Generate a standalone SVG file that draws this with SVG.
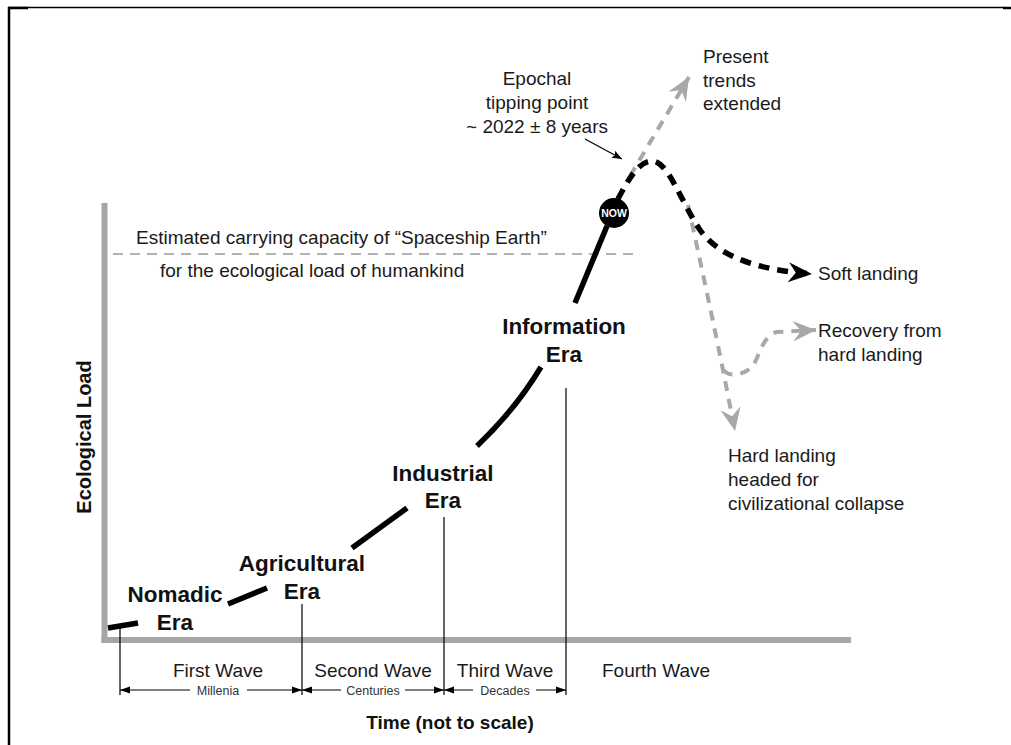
<svg xmlns="http://www.w3.org/2000/svg" width="1011" height="745" viewBox="0 0 1011 745">
<defs>
<style>
.t{font-family:"Liberation Sans",Arial,sans-serif;font-size:19px;fill:#1a1a1a}
.b{font-family:"Liberation Sans",Arial,sans-serif;font-weight:bold;fill:#111}
.era{font-size:22.5px;text-anchor:middle}
.s{font-family:"Liberation Sans",Arial,sans-serif;font-size:12.5px;fill:#333;text-anchor:middle}
.c{font-size:19px;text-anchor:middle}
.seg{fill:none;stroke:#000;stroke-width:5.5}
.tick{stroke:#000;stroke-width:1.2}
.dim{stroke:#000;stroke-width:1}
.axis{stroke:#a6a6a6;stroke-width:6;fill:none}
.gd{fill:none;stroke:#a8a8a8;stroke-width:4;stroke-dasharray:10 8}
.bd{fill:none;stroke:#000;stroke-width:5.5;stroke-dasharray:11 8}
</style>
<marker id="ga" markerUnits="userSpaceOnUse" markerWidth="30" markerHeight="30" viewBox="-20 -10 22 20" refX="0" refY="0" orient="auto"><path d="M0,0 L-17,-7.5 L-11,0 L-17,7.5 Z" fill="#a8a8a8"/></marker>
<marker id="ba" markerUnits="userSpaceOnUse" markerWidth="30" markerHeight="30" viewBox="-22 -10 24 20" refX="0" refY="0" orient="auto"><path d="M0,0 L-19,-8 L-13,0 L-19,8 Z" fill="#000"/></marker>
<marker id="sa" markerUnits="userSpaceOnUse" markerWidth="14" markerHeight="10" viewBox="-11 -5 12 10" refX="0" refY="0" orient="auto-start-reverse"><path d="M0,0 L-10,-3.5 L-10,3.5 Z" fill="#000"/></marker>
<marker id="ka" markerUnits="userSpaceOnUse" markerWidth="14" markerHeight="10" viewBox="-11 -5 12 10" refX="0" refY="0" orient="auto"><path d="M0,0 L-10,-4 L-8,0 L-10,4 Z" fill="#000"/></marker>
</defs>

<g id="frame">
<line x1="9" y1="7" x2="9" y2="745" stroke="#000" stroke-width="2.5"/>
<line x1="8" y1="7.5" x2="1004" y2="7.5" stroke="#000" stroke-width="1.5"/>
<line x1="8" y1="8" x2="28" y2="8" stroke="#000" stroke-width="2.5"/>
<line x1="1003" y1="8" x2="1011" y2="8" stroke="#000" stroke-width="2.5"/>
</g>

<g id="axes">
<line class="axis" x1="104.5" y1="203" x2="104.5" y2="643"/>
<line class="axis" x1="101.5" y1="640" x2="851" y2="640"/>
<text class="b" font-size="20" transform="translate(91,437) rotate(-90)" text-anchor="middle">Ecological Load</text>
<text class="b" x="450" y="729" font-size="19" text-anchor="middle">Time (not to scale)</text>
</g>

<g id="capacity">
<line x1="113" y1="254" x2="636" y2="254" stroke="#999" stroke-width="1.5" stroke-dasharray="10 7"/>
<text class="t" x="136" y="244" font-size="18">Estimated carrying capacity of “Spaceship Earth”</text>
<text class="t" x="160" y="277" font-size="18">for the ecological load of humankind</text>
</g>

<g id="ticks">
<line class="tick" x1="120" y1="628" x2="120" y2="695"/>
<line class="tick" x1="302" y1="604" x2="302" y2="695"/>
<line class="tick" x1="444" y1="517" x2="444" y2="695"/>
<line class="tick" x1="566" y1="388" x2="566" y2="695"/>
</g>

<g id="waves">
<text class="t c" x="218" y="677">First Wave</text>
<text class="t c" x="373" y="677">Second Wave</text>
<text class="t c" x="505" y="677">Third Wave</text>
<text class="t c" x="656" y="677">Fourth Wave</text>
<line class="dim" x1="120" y1="690" x2="190" y2="690" marker-start="url(#sa)"/>
<line class="dim" x1="247" y1="690" x2="302" y2="690" marker-end="url(#sa)"/>
<text class="s" x="218" y="694.5">Millenia</text>
<line class="dim" x1="302" y1="690" x2="341" y2="690" marker-start="url(#sa)"/>
<line class="dim" x1="405" y1="690" x2="444" y2="690" marker-end="url(#sa)"/>
<text class="s" x="373" y="694.5">Centuries</text>
<line class="dim" x1="444" y1="690" x2="473" y2="690" marker-start="url(#sa)"/>
<line class="dim" x1="536" y1="690" x2="566" y2="690" marker-end="url(#sa)"/>
<text class="s" x="505" y="694.5">Decades</text>
</g>

<g id="nomadic">
<text class="b era" x="175" y="602">Nomadic</text>
<text class="b era" x="175" y="630">Era</text>
</g>
<g id="agricultural">
<text class="b era" x="302" y="571">Agricultural</text>
<text class="b era" x="302" y="599">Era</text>
</g>
<g id="industrial">
<text class="b era" x="443" y="481">Industrial</text>
<text class="b era" x="443" y="508">Era</text>
</g>
<g id="information">
<text class="b era" x="564" y="334">Information</text>
<text class="b era" x="564" y="362">Era</text>
</g>
<g id="now">
<circle cx="614" cy="213" r="15" fill="#000"/>
<text class="b" x="614" y="217" font-size="10.5" fill="#fff" style="fill:#fff" text-anchor="middle">NOW</text>
</g>

<g id="epochal">
<text class="t c" x="537" y="85">Epochal</text>
<text class="t c" x="537" y="109">tipping point</text>
<text class="t c" x="537" y="133">~ 2022 ± 8 years</text>
</g>
<g id="present-label">
<text class="t" x="703" y="63">Present</text>
<text class="t" x="703" y="87">trends</text>
<text class="t" x="703" y="110">extended</text>
</g>
<g id="soft-label"><text class="t" x="818" y="280">Soft landing</text></g>
<g id="recovery-label">
<text class="t" x="818" y="337">Recovery from</text>
<text class="t" x="818" y="361">hard landing</text>
</g>
<g id="hard-label">
<text class="t" x="728" y="462">Hard landing</text>
<text class="t" x="728" y="486">headed for</text>
<text class="t" x="728" y="510">civilizational collapse</text>
</g>

<g id="connectors">
<line class="seg" x1="108" y1="628" x2="138" y2="623"/>
<line class="seg" x1="228" y1="604" x2="267" y2="588"/>
<line class="seg" x1="352" y1="548" x2="407" y2="508"/>
<path class="seg" d="M477,446 Q515,410 541,367"/>
<line class="seg" x1="575" y1="303" x2="607" y2="226"/>
<path class="gd" d="M630,176 L689,77" marker-end="url(#ga)"/>
<path class="gd" d="M688,205 C700,260 715,330 724,375 L735,431" marker-end="url(#ga)"/>
<path class="gd" d="M724,370 C728,377 742,376 752,367 C760,356 762,336 777,332 L816,330" marker-end="url(#ga)"/>
<path class="bd" d="M618,199 C630,176 640,161 652,161 C668,161 680,200 700,230 C720,258 760,270 812,274" marker-end="url(#ba)"/>
<line x1="585" y1="139" x2="622" y2="159" stroke="#000" stroke-width="1.2" marker-end="url(#ka)"/>
</g>
</svg>
